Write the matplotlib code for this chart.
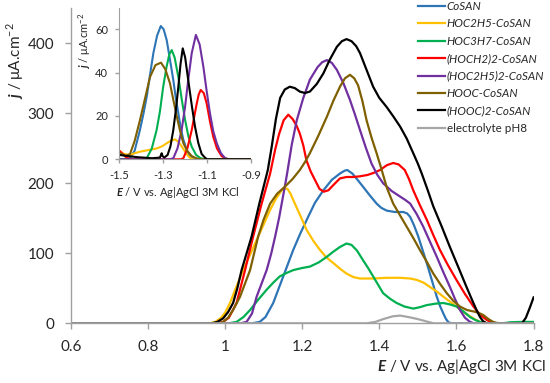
import matplotlib
matplotlib.use("Agg")
import matplotlib.pyplot as plt

plt.rcParams['font.family'] = ['Lato', 'DejaVu Sans']
plt.rcParams['axes.unicode_minus'] = False
plt.rcParams['mathtext.fontset'] = 'custom'
plt.rcParams['mathtext.bfit'] = 'Lato:bold:italic'
plt.rcParams['mathtext.rm'] = 'Lato'

# main chart, E (V) vs j (uA/cm2)
labels = ['CoSAN', 'HOC2H5-CoSAN', 'HOC3H7-CoSAN', '(HOCH2)2-CoSAN',
          '(HOC2H5)2-CoSAN', 'HOOC-CoSAN', '(HOOC)2-CoSAN', 'electrolyte pH8']
colors = ['#2e75b6', '#ffc000', '#00b050', '#ff0000', '#7030a0', '#7f6000', '#000000', '#a6a6a6']

blue_x = [0.6, 1.07, 1.09, 1.105, 1.125, 1.151, 1.177, 1.195, 1.212, 1.233, 1.255, 1.277, 1.298, 1.31, 1.317,
          1.33, 1.345, 1.358, 1.375, 1.393, 1.405, 1.419, 1.44, 1.462, 1.472, 1.48, 1.49, 1.501, 1.512, 1.523,
          1.536, 1.549, 1.558, 1.566, 1.573, 1.58, 1.59, 1.8]
blue_y = [0, 0, 2, 9, 29, 67, 105, 128, 148, 172, 190, 205, 214, 218, 219,
          214, 204, 195, 183, 171, 165, 161, 159, 159, 157, 152, 140, 124, 105, 86,
          62, 38, 24, 14, 6, 1, 0, 0]

yellow_x = [0.6, 0.96, 0.975, 0.99, 1.0, 1.013, 1.03, 1.047, 1.065, 1.082, 1.1, 1.117, 1.132, 1.147, 1.155,
            1.162, 1.17, 1.177, 1.195, 1.212, 1.23, 1.246, 1.263, 1.281, 1.298, 1.315, 1.333, 1.35, 1.384,
            1.42, 1.454, 1.48, 1.497, 1.515, 1.531, 1.55, 1.566, 1.583, 1.6, 1.618, 1.635, 1.65, 1.661,
            1.675, 1.69, 1.8]
yellow_y = [0, 0, 2, 8, 15, 29, 53, 76, 98, 119, 141, 162, 178, 190, 193,
            192, 185, 176, 154, 133, 117, 105, 94, 86, 78, 71, 66, 64, 64,
            65, 65, 64, 62, 58, 52, 45, 38, 31, 24, 16, 10, 5, 2,
            0.3, 0, 0]

green_x = [0.6, 1.01, 1.03, 1.048, 1.065, 1.085, 1.108, 1.125, 1.142, 1.16, 1.177, 1.2, 1.22, 1.243, 1.264,
           1.28, 1.298, 1.315, 1.328, 1.342, 1.358, 1.371, 1.384, 1.397, 1.41, 1.428, 1.445, 1.465, 1.488,
           1.505, 1.523, 1.545, 1.566, 1.583, 1.6, 1.618, 1.635, 1.648, 1.661, 1.675, 1.69, 1.72, 1.74,
           1.77, 1.8]
green_y = [0, 0, 2, 9, 19, 33, 48, 58, 67, 72, 76, 79, 81, 87, 95,
           102, 109, 114, 112, 104, 90, 79, 67, 55, 43, 35, 29, 24, 21,
           23, 26, 28, 29, 27, 24, 17, 9, 5, 2, 0.5, 0, 0, 1.5,
           2, 2]

red_x = [0.6, 0.98, 0.995, 1.01, 1.03, 1.052, 1.073, 1.095, 1.117, 1.13, 1.14, 1.152, 1.164, 1.175, 1.185,
         1.194, 1.203, 1.211, 1.222, 1.233, 1.245, 1.256, 1.268, 1.28, 1.298, 1.315, 1.333, 1.35, 1.37,
         1.386, 1.402, 1.42, 1.436, 1.45, 1.466, 1.477, 1.488, 1.505, 1.523, 1.54, 1.557, 1.578, 1.6,
         1.622, 1.644, 1.66, 1.678, 1.69, 1.7, 1.8]
red_y = [0, 0, 2, 8, 29, 76, 124, 171, 214, 248, 270, 290, 298, 292, 283,
         271, 254, 233, 217, 205, 192, 188, 190, 197, 207, 209, 209, 210, 212,
         215, 219, 226, 229, 227, 219, 206, 190, 169, 148, 126, 105, 83, 62,
         42, 24, 13, 5, 1.5, 0, 0]

purple_x = [0.6, 1.04, 1.056, 1.07, 1.082, 1.095, 1.108, 1.12, 1.13, 1.14, 1.147, 1.155, 1.161, 1.173, 1.186,
            1.203, 1.22, 1.24, 1.252, 1.264, 1.277, 1.29, 1.307, 1.324, 1.337, 1.35, 1.365, 1.38, 1.395,
            1.41, 1.432, 1.454, 1.468, 1.48, 1.497, 1.514, 1.531, 1.549, 1.566, 1.583, 1.596, 1.609, 1.622,
            1.635, 1.645, 1.8]
purple_y = [0, 0, 2, 14, 38, 57, 76, 100, 124, 150, 171, 195, 214, 255, 290,
            322, 348, 366, 373, 376, 372, 362, 343, 319, 298, 276, 251, 228, 212,
            200, 189, 181, 176, 171, 156, 138, 117, 95, 73, 52, 35, 19, 8,
            2, 0, 0]

brown_x = [0.6, 0.985, 0.995, 1.008, 1.022, 1.039, 1.052, 1.065, 1.086, 1.1, 1.117, 1.135, 1.155, 1.175, 1.194,
           1.207, 1.22, 1.242, 1.264, 1.281, 1.298, 1.311, 1.324, 1.335, 1.345, 1.356, 1.367, 1.38, 1.393,
           1.403, 1.42, 1.436, 1.454, 1.471, 1.488, 1.505, 1.523, 1.54, 1.558, 1.575, 1.592, 1.609, 1.627,
           1.644, 1.657, 1.669, 1.683, 1.695, 1.705, 1.715, 1.8]
brown_y = [0, 0, 2, 8, 20, 38, 57, 76, 124, 148, 171, 185, 195, 206, 219,
           230, 243, 268, 295, 318, 338, 350, 355, 350, 340, 318, 290, 265, 243,
           225, 193, 171, 154, 138, 122, 105, 88, 71, 56, 43, 32, 24, 19,
           17, 15, 12, 6, 2, 0.5, 0, 0]

black_x = [0.6, 0.965, 0.98, 0.995, 1.008, 1.021, 1.032, 1.043, 1.056, 1.069, 1.089, 1.1, 1.111, 1.121, 1.132,
           1.143, 1.155, 1.168, 1.181, 1.194, 1.207, 1.22, 1.238, 1.255, 1.272, 1.29, 1.303, 1.315, 1.328,
           1.34, 1.35, 1.367, 1.384, 1.4, 1.419, 1.437, 1.454, 1.471, 1.488, 1.5, 1.51, 1.525, 1.54,
           1.562, 1.583, 1.605, 1.626, 1.64, 1.652, 1.661, 1.669, 1.678, 1.77, 1.78, 1.79, 1.8]
black_y = [0, 0, 2, 7, 16, 29, 50, 76, 100, 124, 171, 195, 219, 252, 292,
           322, 334, 338, 336, 331, 329, 331, 342, 357, 377, 395, 403, 406, 403,
           396, 386, 362, 338, 322, 309, 295, 281, 264, 243, 228, 214, 191, 167,
           138, 109, 80, 52, 34, 19, 9, 3, 0, 0, 8, 22, 37]

gray_x = [0.6, 1.367, 1.39, 1.41, 1.435, 1.454, 1.475, 1.5, 1.52, 1.54, 1.8]
gray_y = [0, 0, 2, 6, 10, 11, 9, 6, 3, 0, 0]

# inset, reduction region
in_blue_x = [-1.5, -1.47, -1.451, -1.43, -1.406, -1.39, -1.375, -1.36, -1.345, -1.328, -1.311, -1.298, -1.284,
             -1.27, -1.254, -1.243, -1.231, -1.22, -1.208, -1.193, -1.178, -1.16, -1.148, -0.9]
in_blue_y = [0, 0, 0.5, 4, 13.5, 21, 28.9, 39, 48.9, 57, 61.5, 60, 55,
             46.5, 36.6, 28.5, 21.2, 14.5, 8.9, 4.5, 1.5, 0.3, 0, 0]

in_yellow_x = [-1.5, -1.48, -1.45, -1.43, -1.406, -1.37, -1.33, -1.305, -1.284, -1.265, -1.246, -1.23, -1.216,
               -1.2, -1.186, -1.175, -1.165, -0.9]
in_yellow_y = [4, 2.5, 2, 2.8, 3.5, 4.2, 5, 6, 7.4, 8.6, 9.2, 8, 6,
               3.5, 1.5, 0.5, 0, 0]

in_green_x = [-1.5, -1.4, -1.375, -1.352, -1.33, -1.315, -1.3, -1.285, -1.272, -1.261, -1.248, -1.231, -1.216,
              -1.2, -1.185, -1.17, -1.15, -1.13, -1.11, -0.9]
in_green_y = [0, 0, 0.5, 5, 13.5, 22, 33.5, 42.5, 48.5, 50.4, 47, 38, 28,
              18, 10.5, 5.8, 2, 0.5, 0, 0]

in_red_x = [-1.5, -1.485, -1.47, -1.45, -1.22, -1.208, -1.19, -1.17, -1.158, -1.147, -1.138, -1.129, -1.115,
            -1.102, -1.087, -1.072, -1.055, -1.034, -1.015, -1.0, -0.9]
in_red_y = [4, 2.5, 1, 0, 0, 0.5, 5, 13.5, 20, 25.8, 30, 32, 30.5,
            25.8, 17.5, 10.4, 5, 1.5, 0.3, 0, 0]

in_purple_x = [-1.5, -1.27, -1.254, -1.235, -1.216, -1.2, -1.186, -1.17, -1.151, -1.134, -1.117, -1.102, -1.087,
               -1.072, -1.056, -1.037, -1.018, -1.0, -0.9]
in_purple_y = [0, 0, 0.5, 5, 13.5, 24.5, 36.6, 49, 57.4, 53, 42.7, 31.5, 21.2,
               13, 7.4, 2.8, 0.5, 0, 0]

in_brown_x = [-1.5, -1.47, -1.451, -1.43, -1.406, -1.383, -1.36, -1.335, -1.31, -1.29, -1.269, -1.254, -1.238,
              -1.223, -1.208, -1.19, -1.17, -1.15, -1.13, -0.9]
in_brown_y = [3, 1.5, 2.5, 8.5, 18, 28, 38, 43.5, 44.6, 41.5, 35, 27.5, 19.7,
              13, 7.4, 3.8, 1.5, 0.5, 0, 0]

in_black_x = [-1.5, -1.46, -1.42, -1.35, -1.315, -1.31, -1.307, -1.303, -1.295, -1.28, -1.267, -1.254, -1.242,
              -1.231, -1.221, -1.211, -1.2, -1.186, -1.17, -1.155, -1.14, -1.125, -1.11, -1.1, -0.9]
in_black_y = [2, 1.5, 1, 0.5, 0.8, 2, 2.8, 1.5, 0.8, 2, 6, 13.5, 23,
              33.5, 44, 51.2, 47, 36.6, 25, 15, 7.5, 2.5, 0.8, 0, 0]

main_x = [blue_x, yellow_x, green_x, red_x, purple_x, brown_x, black_x, gray_x]
main_y = [blue_y, yellow_y, green_y, red_y, purple_y, brown_y, black_y, gray_y]
inset_x = [in_blue_x, in_yellow_x, in_green_x, in_red_x, in_purple_x, in_brown_x, in_black_x]
inset_y = [in_blue_y, in_yellow_y, in_green_y, in_red_y, in_purple_y, in_brown_y, in_black_y]

axcol = '#a0a0a0'

fig = plt.figure(figsize=(5.5, 3.83), dpi=100)
ax = fig.add_axes([70.7 / 550, 1 - 323.3 / 383, (533.6 - 70.7) / 550, 315 / 383])

for xs, ys, c, lab in zip(main_x, main_y, colors, labels):
    ax.plot(xs, ys, color=c, lw=1.6, label=lab, solid_joinstyle='round')

ax.set_xlim(0.6, 1.8)
ax.set_ylim(0, 450)
ax.set_xticks([0.6, 0.8, 1.0, 1.2, 1.4, 1.6, 1.8])
ax.set_xticklabels(['0.6', '0.8', '1', '1.2', '1.4', '1.6', '1.8'])
ax.set_yticks([0, 100, 200, 300, 400])
for s in ['top', 'right']:
    ax.spines[s].set_visible(False)
for s in ['left', 'bottom']:
    ax.spines[s].set_color(axcol)
    ax.spines[s].set_linewidth(1.0)
ax.tick_params(colors=axcol, labelcolor='#262626', labelsize=11, length=4, width=1.0, pad=8)

fig.text(15 / 550, 1 - 61 / 383, r'$\mathbfit{j}$ / μA.cm$^{-2}$', rotation=90,
         ha='center', va='center', fontsize=11, color='#262626')
fig.text(546 / 550, 1 - 366 / 383, r'$\mathbfit{E}$ / V vs. Ag|AgCl 3M KCl',
         ha='right', va='center', fontsize=11, color='#262626')

leg = fig.legend(loc='upper left', bbox_to_anchor=(418 / 550, 1 - 1 / 383), frameon=False,
                 fontsize=8.4, handlelength=2.3, handletextpad=0.15, labelspacing=0.55,
                 borderpad=0, borderaxespad=0)
for t in leg.get_texts()[:-1]:
    t.set_fontstyle('italic')
for t in leg.get_texts():
    t.set_color('#262626')

# inset
ins = fig.add_axes([119.3 / 550, 1 - 159.3 / 383, (251 - 119.3) / 550, 151.7 / 383])
ins.patch.set_alpha(0)
for xs, ys, c in zip(inset_x, inset_y, colors[:7]):
    ins.plot(xs, ys, color=c, lw=1.5, solid_joinstyle='round')
ins.set_xlim(-1.5, -0.9)
ins.set_ylim(0, 70)
ins.set_xticks([-1.5, -1.3, -1.1, -0.9])
ins.set_xticklabels(['-1.5', '-1.3', '-1.1', '-0.9'])
ins.set_yticks([0, 20, 40, 60])
for s in ['top', 'right']:
    ins.spines[s].set_visible(False)
for s in ['left', 'bottom']:
    ins.spines[s].set_color(axcol)
ins.tick_params(colors=axcol, labelcolor='#262626', labelsize=8, length=3, width=1.0, pad=5)
fig.text(85 / 550, 1 - 41 / 383, r'$\mathbfit{j}$ / μA.cm$^{-2}$', rotation=90,
         ha='center', va='center', fontsize=8, color='#262626')
fig.text(178 / 550, 1 - 193 / 383, r'$\mathbfit{E}$ / V vs. Ag|AgCl 3M KCl',
         ha='center', va='center', fontsize=8, color='#262626')

fig.savefig('out.png', dpi=100)
